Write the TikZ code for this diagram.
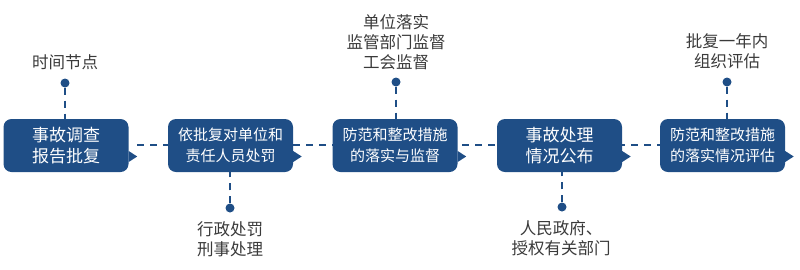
\documentclass[tikz,border=0pt]{standalone}
\usepackage{fontspec}
\setmainfont{Noto Sans CJK SC}
\definecolor{boxblue}{HTML}{1F4E86}
\definecolor{labelgray}{HTML}{3A3A3A}
\begin{document}
\begin{tikzpicture}[x=1pt,y=-1pt,
  stepbox/.style={fill=boxblue, rounded corners=8pt, minimum width=125pt, minimum height=53pt,
    inner sep=0pt, align=center, text=white, font=\fontsize{17}{21}\selectfont},
  smallbox/.style={stepbox, font=\fontsize{15}{21}\selectfont},
  lbl/.style={align=center, text=labelgray, inner sep=0pt, font=\fontsize{16.5}{20}\selectfont},
  conn/.style={draw=boxblue, line width=2pt, dash pattern=on 7pt off 6pt},
  dotmark/.style={circle, fill=boxblue, minimum size=9pt, inner sep=0pt}]
\useasboundingbox (0,0) rectangle (800,269);
% horizontal timeline (behind boxes)
\coordinate (l0) at (137,145);
\coordinate (l4) at (660,145);
\draw[conn] (l0) -- (l4);
% boxes
\node[stepbox] (b1) at (66,145.5) {事故调查\\报告批复};
\node[smallbox] (b2) at (230.5,145.5) {依批复对单位和\\责任人员处罚};
\node[smallbox] (b3) at (395,145.5) {防范和整改措施\\的落实与监督};
\node[stepbox] (b4) at (559.5,145.5) {事故处理\\情况公布};
\node[smallbox] (b5) at (722.5,145.5) {防范和整改措施\\的落实情况评估};
% pointers
\foreach \b in {b1,b2,b3,b4,b5}{
  \fill[boxblue] ([yshift=-5.5pt]\b.east) -- ++(8.5,5.5) -- ++(-8.5,5.5) -- cycle;
}
% dots
\node[dotmark] (d1) at (65,83) {};
\node[dotmark] (d2) at (230,208) {};
\node[dotmark] (d3) at (396,82) {};
\node[dotmark] (d4) at (562,207) {};
\node[dotmark] (d5) at (727,82) {};
% vertical connectors
\draw[conn] (d1) -- (d1 |- b1.north);
\draw[conn] (d2) -- (d2 |- b2.south);
\draw[conn] (d3) -- (d3 |- b3.north);
\draw[conn] (d4) -- (d4 |- b4.south);
\draw[conn] (d5) -- (d5 |- b5.north);
% labels
\node[lbl] (t1) at (65,62) {时间节点};
\node[lbl] (t2) at (230,239) {行政处罚\\刑事处理};
\node[lbl] (t3) at (396,42) {单位落实\\监管部门监督\\工会监督};
\node[lbl] (t4) at (561,238) {人民政府、\\授权有关部门};
\node[lbl] (t5) at (727,51) {批复一年内\\组织评估};
\end{tikzpicture}
\end{document}
